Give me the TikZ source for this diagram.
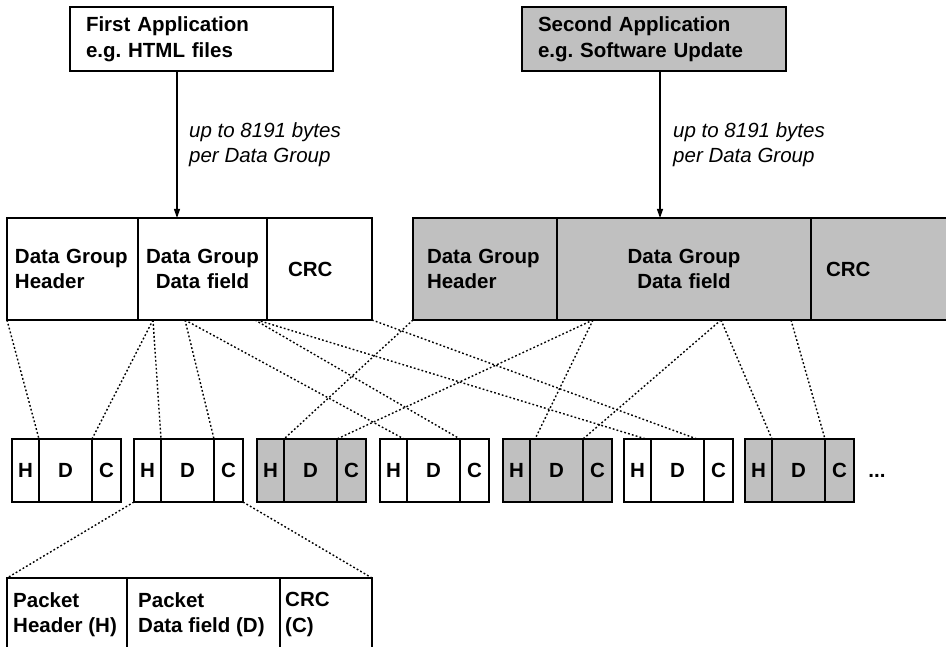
\documentclass[tikz,border=0pt]{standalone}
\usepackage{fontspec}
\setmainfont{Liberation Sans}
\usetikzlibrary{calc,arrows.meta}
\definecolor{boxgray}{RGB}{192,192,192}
\frenchspacing
\begin{document}
\begin{tikzpicture}[x=1pt,y=-1pt,
  every node/.style={font=\fontsize{20.5}{25.5}\selectfont\bfseries},
  cell/.style={draw=black, line width=1.2pt, anchor=north west, inner sep=0pt, outer sep=0pt},
  lab/.style={font=\fontsize{20.5}{25}\selectfont\itshape, anchor=north west, inner sep=0pt, align=left},
  txt/.style={anchor=north west, inner sep=0pt, align=left},
  flow/.style={line width=1.2pt, -{Triangle[length=9pt,width=6pt]}},
  dots/.style={line width=1.4pt, dash pattern=on 1.8pt off 2.2pt}
]
\clip (0,0) rectangle (946,647);
\fill[white] (0,0) rectangle (946,647);

% applications
\node[cell, minimum width=263, minimum height=64, text width=231, inner xsep=16, align=left] (app1) at (70,7) {First Application\\e.g. HTML files};
\node[cell, fill=boxgray, minimum width=264, minimum height=64, text width=232, inner xsep=16, align=left] (app2) at (522,7) {Second Application\\e.g. Software Update};

% data groups
\node[cell, minimum width=131, minimum height=102, text width=115, inner xsep=8, align=left] (g1h) at (7,218) {Data Group\\Header};
\node[cell, minimum width=129, minimum height=102, text width=121, inner xsep=4, align=center] (g1d) at (138,218) {Data Group\\Data field};
\node[cell, minimum width=105, minimum height=102, text width=63, inner xsep=21, align=left] (g1c) at (267,218) {CRC};

\node[cell, fill=boxgray, minimum width=144, minimum height=102, text width=116, inner xsep=14, align=left] (g2h) at (413,218) {Data Group\\Header};
\node[cell, fill=boxgray, minimum width=254, minimum height=102, text width=200, inner xsep=27, align=center] (g2d) at (557,218) {Data Group\\Data field};
\node[cell, fill=boxgray, minimum width=200, minimum height=102, text width=170, inner xsep=15, align=left] (g2c) at (811,218) {CRC};

% arrows and labels
\coordinate (ax1) at (177,0);
\coordinate (ax2) at (660,0);
\draw[flow] (app1.south -| ax1) -- (g1d.north -| ax1);
\draw[flow] (app2.south -| ax2) -- (g2d.north -| ax2);
\node[lab] (l1) at (189,122) {up to 8191 bytes\\per Data Group};
\node[lab] (l2) at (673,122) {up to 8191 bytes\\per Data Group};

% packets
\foreach \i/\x/\f in {1/12/white,2/134/white,3/257/boxgray,4/380/white,5/503/boxgray,6/624/white,7/745/boxgray}{
  \node[cell, fill=\f, minimum width=27, minimum height=63] (p\i-h) at (\x,439) {H};
  \node[cell, fill=\f, minimum width=53, minimum height=63] (p\i-d) at (p\i-h.north east) {D};
  \node[cell, fill=\f, minimum width=29, minimum height=63] (p\i-c) at (p\i-d.north east) {C};
}
\node[inner sep=0pt] (more) at (877,476) {...};

% dotted mapping lines, first data group
\draw[dots] (g1h.south west) -- (p1-h.north east);
\draw[dots] ($(g1d.south west)+(15,0)$) -- (p1-d.north east);
\draw[dots] ($(g1d.south west)+(15,0)$) -- (p2-h.north east);
\draw[dots] ($(g1d.south west)+(47,0)$) -- (p2-d.north east);
\draw[dots] ($(g1d.south west)+(47,0)$) -- ($(p4-h.north east)+(-3,0)$);
\draw[dots] ($(g1c.south west)+(-12,0)$) -- (p4-d.north east);
\draw[dots] ($(g1c.south west)+(-10,0)$) -- ($(p6-h.north east)+(-5,0)$);
\draw[dots] (g1c.south east) -- ($(p6-d.north east)+(-7,0)$);

% dotted mapping lines, second data group
\draw[dots] (g2h.south west) -- (p3-h.north east);
\draw[dots] ($(g2d.south west)+(36,0)$) -- (p3-d.north east);
\draw[dots] ($(g2d.south west)+(36,0)$) -- ($(p5-h.north east)+(5,0)$);
\draw[dots] ($(g2d.south west)+(164,0)$) -- (p5-d.north east);
\draw[dots] ($(g2d.south west)+(164,0)$) -- (p7-h.north east);
\draw[dots] ($(g2c.south west)+(-20,0)$) -- (p7-d.north east);

% packet detail
\node[cell, minimum width=120, minimum height=100] (b1) at (7,578) {};
\node[cell, minimum width=153, minimum height=100] (b2) at (127,578) {};
\node[cell, minimum width=92, minimum height=100] (b3) at (280,578) {};
\node[txt] (t1) at ($(b1.north west)+(6,14)$) {Packet\\Header (H)};
\node[txt] (t2) at ($(b2.north west)+(11,14)$) {Packet\\Data field (D)};
\node[txt] (t3) at ($(b3.north west)+(5,14)$) {CRC\\(C)};
\draw[dots] (p2-h.south west) -- (b1.north west);
\draw[dots] (p2-c.south east) -- (b3.north east);
\end{tikzpicture}
\end{document}
